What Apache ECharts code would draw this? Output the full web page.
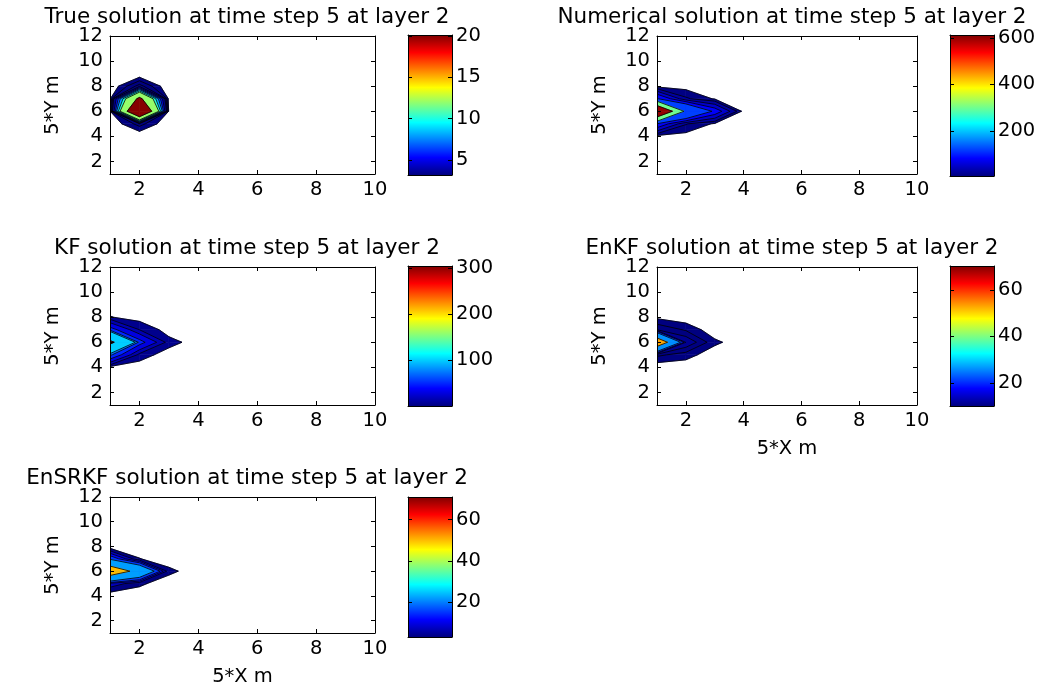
<!DOCTYPE html>
<html><head><meta charset="utf-8">
<script src="https://cdn.jsdelivr.net/npm/echarts@6/dist/echarts.min.js"></script>
<style>html,body{margin:0;padding:0;background:#fff}#c{width:1052px;height:690px}</style>
</head><body><div id="c"></div>
<script>
// ---------------- data ----------------
const xTicks = [2, 4, 6, 8, 10];
const yTicks = [2, 4, 6, 8, 10, 12];
const xRange = [1, 10];
const yRange = [1, 12];
const titles = [
  'True solution at time step 5 at layer 2',
  'Numerical solution at time step 5 at layer 2',
  'KF solution at time step 5 at layer 2',
  'EnKF solution at time step 5 at layer 2',
  'EnSRKF solution at time step 5 at layer 2'
];
const yName = '5*Y m';
const xName = '5*X m';

// grids: one row per y = 1..12 (bottom to top), 10 values per row for x = 1..10
const trueSolution = [
  [0,0,0,0,0,0,0,0,0,0],
  [0,0,0,0,0,0,0,0,0,0],
  [0,0,0,0,0,0,0,0,0,0],
  [0,0,0,0,0,0,0,0,0,0],
  [0,2,0,0,0,0,0,0,0,0],
  [0.5,34,0.5,0,0,0,0,0,0,0],
  [0.5,22,0.3,0,0,0,0,0,0,0],
  [0,2.8,0,0,0,0,0,0,0,0],
  [0,0,0,0,0,0,0,0,0,0],
  [0,0,0,0,0,0,0,0,0,0],
  [0,0,0,0,0,0,0,0,0,0],
  [0,0,0,0,0,0,0,0,0,0]
];
const numericalSolution = [
  [0,0,0,0,0,0,0,0,0,0],
  [0,0,0,0,0,0,0,0,0,0],
  [0,0,0,0,0,0,0,0,0,0],
  [0,0,0,0,0,0,0,0,0,0],
  [115,26.7,5,0,0,0,0,0,0,0],
  [1000,250,106,0,0,0,0,0,0,0],
  [125,28.6,5.7,0,0,0,0,0,0,0],
  [0,0,0,0,0,0,0,0,0,0],
  [0,0,0,0,0,0,0,0,0,0],
  [0,0,0,0,0,0,0,0,0,0],
  [0,0,0,0,0,0,0,0,0,0],
  [0,0,0,0,0,0,0,0,0,0]
];
const kfSolution = [
  [0,0,0,0,0,0,0,0,0,0],
  [0,0,0,0,0,0,0,0,0,0],
  [0,0,0,0,0,0,0,0,0,0],
  [0,0,0,0,0,0,0,0,0,0],
  [75,10,0,0,0,0,0,0,0,0],
  [340,60,9,0,0,0,0,0,0,0],
  [61,15,0,0,0,0,0,0,0,0],
  [5.6,0,0,0,0,0,0,0,0,0],
  [0,0,0,0,0,0,0,0,0,0],
  [0,0,0,0,0,0,0,0,0,0],
  [0,0,0,0,0,0,0,0,0,0],
  [0,0,0,0,0,0,0,0,0,0]
];
const enkfSolution = [
  [0,0,0,0,0,0,0,0,0,0],
  [0,0,0,0,0,0,0,0,0,0],
  [0,0,0,0,0,0,0,0,0,0],
  [0,0,0,0,0,0,0,0,0,0],
  [8,5,0,0,0,0,0,0,0,0],
  [75,15,4.1,0,0,0,0,0,0,0],
  [11,6.4,0,0,0,0,0,0,0,0],
  [1.9,0,0,0,0,0,0,0,0,0],
  [0,0,0,0,0,0,0,0,0,0],
  [0,0,0,0,0,0,0,0,0,0],
  [0,0,0,0,0,0,0,0,0,0],
  [0,0,0,0,0,0,0,0,0,0]
];
const ensrkfSolution = [
  [0,0,0,0,0,0,0,0,0,0],
  [0,0,0,0,0,0,0,0,0,0],
  [0,0,0,0,0,0,0,0,0,0],
  [0,0,0,0,0,0,0,0,0,0],
  [10,4.05,0,0,0,0,0,0,0,0],
  [71,40,4.4,0,0,0,0,0,0,0],
  [20,3.2,0,0,0,0,0,0,0,0],
  [0,0,0,0,0,0,0,0,0,0],
  [0,0,0,0,0,0,0,0,0,0],
  [0,0,0,0,0,0,0,0,0,0],
  [0,0,0,0,0,0,0,0,0,0],
  [0,0,0,0,0,0,0,0,0,0]
];

// contour levels
const trueLevels = [0.8, 1.6, 2.4, 3.2, 5, 6.5, 8, 10, 12, 20];
const numericalLevels = [8, 25, 50, 80, 120, 300, 600];
const kfLevels = [5, 15, 30, 50, 70, 100, 300];
const enkfLevels = [3, 7, 11, 15, 19, 26, 53];
const ensrkfLevels = [3, 7, 11, 15, 22, 50];

// colour-bar ranges and ticks
const trueRange = [3.2, 20.1];
const numericalRange = [6, 612];
const kfRange = [1, 304];
const enkfRange = [10, 70.3];
const ensrkfRange = [3, 71];
const trueCbTicks = [5, 10, 15, 20];
const numericalCbTicks = [200, 400, 600];
const kfCbTicks = [100, 200, 300];
const enkfCbTicks = [20, 40, 60];
const ensrkfCbTicks = [20, 40, 60];

// ---------------- layout ----------------
const FONT = 'DejaVu Sans';
const TICK_FS = 19.5;
const panels = [
  {title: titles[0], z: trueSolution, levels: trueLevels, range: trueRange, cbTicks: trueCbTicks,
   plot: [110, 36, 265, 138], cb: [408, 35, 44, 140], tx: 242, ty: 1, xname: false},
  {title: titles[1], z: numericalSolution, levels: numericalLevels, range: numericalRange, cbTicks: numericalCbTicks,
   plot: [657, 36, 260, 138], cb: [950, 35, 44, 141], tx: 787, ty: 1, xname: false},
  {title: titles[2], z: kfSolution, levels: kfLevels, range: kfRange, cbTicks: kfCbTicks,
   plot: [110, 267, 265, 138], cb: [408, 266, 44, 140], tx: 242, ty: 232, xname: false},
  {title: titles[3], z: enkfSolution, levels: enkfLevels, range: enkfRange, cbTicks: enkfCbTicks,
   plot: [657, 267, 260, 138], cb: [950, 266, 44, 140], tx: 787, ty: 232, xname: true},
  {title: titles[4], z: ensrkfSolution, levels: ensrkfLevels, range: ensrkfRange, cbTicks: ensrkfCbTicks,
   plot: [110, 497, 265, 136], cb: [408, 497, 44, 140], tx: 242, ty: 462, xname: true}
];

function clamp01(v) { return Math.max(0, Math.min(1, v)); }
function jet(t) {
  t = clamp01(t);
  const r = clamp01(1.5 - Math.abs(4 * t - 3));
  const g = clamp01(1.5 - Math.abs(4 * t - 2));
  const b = clamp01(1.5 - Math.abs(4 * t - 1));
  return 'rgb(' + Math.round(r * 255) + ',' + Math.round(g * 255) + ',' + Math.round(b * 255) + ')';
}
const jetStops = [0, 0.125, 0.375, 0.625, 0.875, 1].map(t => ({offset: t, color: jet(t)}));

function contourRender(p) {
  return function (params, api) {
    const z = p.z, ny = z.length, nx = z[0].length;
    const children = [], segs = [];
    p.levels.forEach(l => {
      const col = jet((l - p.range[0]) / (p.range[1] - p.range[0]));
      for (let j = 0; j < ny - 1; j++) {
        for (let i = 0; i < nx - 1; i++) {
          const c = [[i + 1, j + 1, z[j][i]], [i + 2, j + 1, z[j][i + 1]],
                     [i + 2, j + 2, z[j + 1][i + 1]], [i + 1, j + 2, z[j + 1][i]]];
          if (c.every(q => q[2] < l)) continue;
          const out = [];
          for (let k = 0; k < 4; k++) {
            const a = c[k], b = c[(k + 1) % 4];
            const ia = a[2] >= l, ib = b[2] >= l;
            if (ia) out.push({x: a[0], y: a[1], iso: false});
            if (ia !== ib) {
              const t = (l - a[2]) / (b[2] - a[2]);
              out.push({x: a[0] + t * (b[0] - a[0]), y: a[1] + t * (b[1] - a[1]), iso: true});
            }
          }
          if (out.length < 3) continue;
          const pts = out.map(q => api.coord([q.x, q.y]));
          children.push({type: 'polygon', shape: {points: pts},
            style: {fill: col, stroke: col, lineWidth: 0.6}});
          const n = out.length;
          for (let k = 0; k < n; k++) {
            if (out[k].iso && out[(k + 1) % n].iso) segs.push([pts[k], pts[(k + 1) % n]]);
          }
        }
      }
    });
    segs.forEach(s => children.push({type: 'polyline', shape: {points: s},
      style: {stroke: '#000', lineWidth: 0.8, fill: null}}));
    return {type: 'group', children: children};
  };
}

function colorbarRender(p) {
  return function (params, api) {
    const a = api.coord([0, p.range[0]]);
    const b = api.coord([1, p.range[1]]);
    return {type: 'rect', shape: {x: a[0], y: b[1], width: b[0] - a[0], height: a[1] - b[1]},
      style: {fill: {type: 'linear', x: 0, y: 1, x2: 0, y2: 0, colorStops: jetStops}}};
  };
}

const lineStyle = {color: '#000', width: 1};
const labelStyle = {color: '#000', fontSize: TICK_FS, fontFamily: FONT};
const option = {
  backgroundColor: '#fff', animation: false,
  title: [], grid: [], xAxis: [], yAxis: [], series: []
};

panels.forEach(p => {
  option.title.push({text: p.title, left: p.tx, top: p.ty, textAlign: 'center',
    textStyle: {fontSize: 21.5, fontWeight: 'normal', fontFamily: FONT, color: '#000'}});
  // plot grid
  const g = option.grid.length;
  option.grid.push({left: p.plot[0], top: p.plot[1], width: p.plot[2], height: p.plot[3],
    containLabel: false, outerBoundsMode: 'none'});
  const xi = option.xAxis.length;
  option.xAxis.push({gridIndex: g, type: 'value', min: xRange[0], max: xRange[1], position: 'bottom', z: 5,
    axisLine: {show: true, onZero: false, lineStyle},
    axisTick: {show: true, inside: true, length: 4, customValues: xTicks, lineStyle},
    axisLabel: Object.assign({customValues: xTicks, margin: 6}, labelStyle),
    splitLine: {show: false},
    name: p.xname ? xName : '', nameLocation: 'middle', nameGap: 34,
    nameTextStyle: {color: '#000', fontSize: TICK_FS, fontFamily: FONT}});
  option.xAxis.push({gridIndex: g, type: 'value', min: xRange[0], max: xRange[1], position: 'top', z: 5,
    axisLine: {show: true, onZero: false, lineStyle},
    axisTick: {show: true, inside: true, length: 4, customValues: xTicks, lineStyle},
    axisLabel: {show: false}, splitLine: {show: false}});
  const yi = option.yAxis.length;
  option.yAxis.push({gridIndex: g, type: 'value', min: yRange[0], max: yRange[1], position: 'left', z: 5,
    axisLine: {show: true, onZero: false, lineStyle},
    axisTick: {show: true, inside: true, length: 4, customValues: yTicks, lineStyle},
    axisLabel: Object.assign({customValues: yTicks, margin: 7}, labelStyle),
    splitLine: {show: false},
    name: yName, nameLocation: 'middle', nameGap: 47, nameRotate: 90,
    nameTextStyle: {color: '#000', fontSize: TICK_FS, fontFamily: FONT}});
  option.yAxis.push({gridIndex: g, type: 'value', min: yRange[0], max: yRange[1], position: 'right', z: 5,
    axisLine: {show: true, onZero: false, lineStyle},
    axisTick: {show: true, inside: true, length: 4, customValues: yTicks, lineStyle},
    axisLabel: {show: false}, splitLine: {show: false}});
  option.series.push({type: 'custom', coordinateSystem: 'cartesian2d', xAxisIndex: xi, yAxisIndex: yi,
    data: [0], renderItem: contourRender(p), silent: true, clip: true, z: 1});

  // colour bar
  const cg = option.grid.length;
  option.grid.push({left: p.cb[0], top: p.cb[1], width: p.cb[2], height: p.cb[3],
    containLabel: false, outerBoundsMode: 'none'});
  const cxi = option.xAxis.length;
  option.xAxis.push({gridIndex: cg, type: 'value', min: 0, max: 1, position: 'bottom', z: 5,
    axisLine: {show: true, onZero: false, lineStyle}, axisTick: {show: false},
    axisLabel: {show: false}, splitLine: {show: false}});
  option.xAxis.push({gridIndex: cg, type: 'value', min: 0, max: 1, position: 'top', z: 5,
    axisLine: {show: true, onZero: false, lineStyle}, axisTick: {show: false},
    axisLabel: {show: false}, splitLine: {show: false}});
  const cyi = option.yAxis.length;
  option.yAxis.push({gridIndex: cg, type: 'value', min: p.range[0], max: p.range[1], position: 'right', z: 5,
    axisLine: {show: true, onZero: false, lineStyle},
    axisTick: {show: true, inside: true, length: 4, customValues: p.cbTicks, lineStyle},
    axisLabel: Object.assign({customValues: p.cbTicks, margin: 4}, labelStyle),
    splitLine: {show: false}});
  option.yAxis.push({gridIndex: cg, type: 'value', min: p.range[0], max: p.range[1], position: 'left', z: 5,
    axisLine: {show: true, onZero: false, lineStyle},
    axisTick: {show: true, inside: true, length: 4, customValues: p.cbTicks, lineStyle},
    axisLabel: {show: false}, splitLine: {show: false}});
  option.series.push({type: 'custom', coordinateSystem: 'cartesian2d', xAxisIndex: cxi, yAxisIndex: cyi,
    data: [0], renderItem: colorbarRender(p), silent: true, z: 1});
});

const chart = echarts.init(document.getElementById('c'), null, {renderer: 'canvas'});
chart.setOption(option);
</script>
</body></html>
